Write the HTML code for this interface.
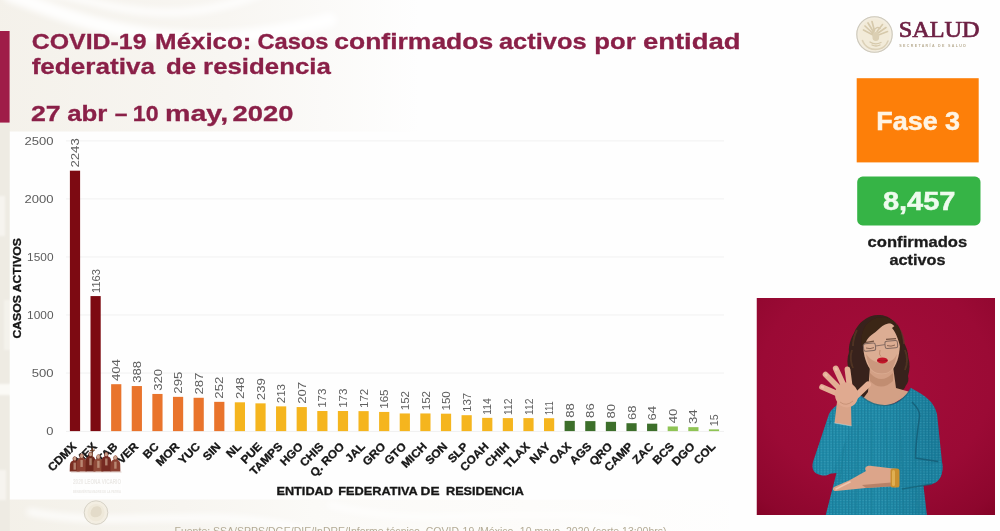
<!DOCTYPE html>
<html lang="es"><head><meta charset="utf-8"><title>COVID-19 México</title>
<style>
html,body{margin:0;padding:0;background:#fefefe;}
body{width:1000px;height:531px;overflow:hidden;position:relative;font-family:"Liberation Sans",sans-serif;}
svg{position:absolute;left:-10px;top:-10px;display:block;filter:blur(0.5px)}
text{font-family:"Liberation Sans",sans-serif}
.ser{font-family:"Liberation Serif",serif}
</style></head><body>
<svg width="1020" height="551" viewBox="-10 -10 1020 551">
<defs>
<filter id="b05" x="-10%" y="-10%" width="120%" height="120%"><feGaussianBlur stdDeviation="0.45"/></filter>
<filter id="b1" x="-10%" y="-10%" width="120%" height="120%"><feGaussianBlur stdDeviation="0.7"/></filter>
<filter id="b2" x="-10%" y="-10%" width="120%" height="120%"><feGaussianBlur stdDeviation="1.3"/></filter>
<filter id="b3" x="-20%" y="-20%" width="140%" height="140%"><feGaussianBlur stdDeviation="3"/></filter>
<filter id="b6" x="-30%" y="-30%" width="160%" height="160%"><feGaussianBlur stdDeviation="7"/></filter>
<linearGradient id="bgL" x1="0" y1="0" x2="1" y2="0"><stop offset="0" stop-color="#f4f1ea"/><stop offset="0.55" stop-color="#f8f6f2"/><stop offset="1" stop-color="#fefefe"/></linearGradient>
<linearGradient id="bgB" x1="0" y1="0" x2="1" y2="0"><stop offset="0" stop-color="#f3f0e8"/><stop offset="0.25" stop-color="#f7f5f0"/><stop offset="0.42" stop-color="#fbfaf7"/><stop offset="0.7" stop-color="#fdfcfa"/><stop offset="1" stop-color="#fefefe"/></linearGradient>
<radialGradient id="photoBg" cx="0.5" cy="0.38" r="0.88"><stop offset="0" stop-color="#a50d3a"/><stop offset="0.55" stop-color="#9b0a35"/><stop offset="0.82" stop-color="#8d062d"/><stop offset="1" stop-color="#7b0020"/></radialGradient>
<linearGradient id="teal" x1="0" y1="0" x2="1" y2="0"><stop offset="0" stop-color="#1d86a4"/><stop offset="0.5" stop-color="#208ba9"/><stop offset="1" stop-color="#1a7b99"/></linearGradient>
<pattern id="knit" width="3.2" height="2.6" patternUnits="userSpaceOnUse"><rect width="3.2" height="2.6" fill="none"/><rect x="0" y="0" width="1.3" height="2.6" fill="#0f5f7c" opacity="0.28"/><rect x="1.3" y="0.9" width="1.9" height="0.9" fill="#6cc3d6" opacity="0.22"/></pattern>
<clipPath id="bodyClip"><path d="M861,396 C846,399 834,404 829,414 L813,462 C811,470 815,475 822,474.5 L836.5,473 L825.5,516 L927,516 L923,482 L936,480 C942,478 943,470 942,462 L937,414 C934,402 926,396 911,388 C906,398 896,405 886,405.5 C876,406 868,402 861,396 Z"/></clipPath>
<clipPath id="photoClip"><rect x="756.5" y="298" width="238.5" height="217"/></clipPath>
</defs>
<!-- background -->
<rect x="-10" y="-10" width="1020" height="551" fill="#fefefe"/>
<g id="bgpattern">
<rect x="-10" y="-10" width="430" height="551" fill="url(#bgL)"/>
<rect x="-10" y="499.5" width="770" height="42" fill="url(#bgB)"/>
<g filter="url(#b3)" fill="none" stroke="#ffffff" stroke-linecap="round">
<path d="M10,-5 C90,25 180,60 330,20" stroke-width="14" opacity="0.9"/>
<path d="M40,-10 C110,5 170,30 260,-6" stroke-width="8" opacity="0.8"/>
<path d="M-5,60 C10,160 6,300 12,430" stroke-width="5" opacity="0.6"/>
<path d="M30,512 C120,530 200,505 300,528" stroke-width="7" opacity="0.8"/>
<path d="M330,505 C420,530 520,505 640,520" stroke-width="6" opacity="0.7"/>
</g>
</g>
<rect x="-10" y="123" width="19.8" height="418" fill="#eeebe3"/>
<g filter="url(#b2)" fill="#fbfaf6"><rect x="-2" y="384" width="14" height="11"/><rect x="-2" y="196" width="7" height="40" opacity="0.6"/><rect x="4" y="300" width="7" height="50" opacity="0.5"/><rect x="-2" y="470" width="8" height="30" opacity="0.6"/></g>
<!-- chart white area -->
<rect x="9.8" y="131.5" width="720" height="368" fill="#fefefe"/>
<rect x="729" y="-10" width="281" height="551" fill="#fefefe"/>
<!-- left maroon bar -->
<rect x="-10" y="31" width="19.6" height="91.6" fill="#9f1c48"/>

<g fill="#8a2048" stroke="#8a2048" stroke-width="0.3" font-weight="bold" font-size="22.2px">
<g><text x="31.8" y="48.7" textLength="114.7" lengthAdjust="spacingAndGlyphs">COVID-19</text> <text x="155.1" y="48.7" textLength="96.3" lengthAdjust="spacingAndGlyphs">México:</text> <text x="257.4" y="48.7" textLength="71.1" lengthAdjust="spacingAndGlyphs">Casos</text> <text x="334.3" y="48.7" textLength="158.9" lengthAdjust="spacingAndGlyphs">confirmados</text> <text x="498.9" y="48.7" textLength="87.7" lengthAdjust="spacingAndGlyphs">activos</text> <text x="594.3" y="48.7" textLength="41.4" lengthAdjust="spacingAndGlyphs">por</text> <text x="642.9" y="48.7" textLength="97.7" lengthAdjust="spacingAndGlyphs">entidad</text></g>
<g><text x="31.7" y="73.9" textLength="123.2" lengthAdjust="spacingAndGlyphs">federativa</text> <text x="165.9" y="73.9" textLength="30.2" lengthAdjust="spacingAndGlyphs">de</text> <text x="203.1" y="73.9" textLength="127.7" lengthAdjust="spacingAndGlyphs">residencia</text></g>
<g><text x="30.9" y="121.3" textLength="29.7" lengthAdjust="spacingAndGlyphs">27</text> <text x="67.2" y="121.3" textLength="40.2" lengthAdjust="spacingAndGlyphs">abr</text> <text x="114.7" y="121.3" textLength="12.7" lengthAdjust="spacingAndGlyphs">–</text> <text x="132.8" y="121.3" textLength="25.8" lengthAdjust="spacingAndGlyphs">10</text> <text x="165.1" y="121.3" textLength="63.0" lengthAdjust="spacingAndGlyphs">may,</text> <text x="232.6" y="121.3" textLength="61.0" lengthAdjust="spacingAndGlyphs">2020</text></g>
</g>
<g stroke="#f1f1f1" stroke-width="1">
<line x1="66" y1="373.1" x2="724" y2="373.1"/>
<line x1="66" y1="315.0" x2="724" y2="315.0"/>
<line x1="66" y1="257.0" x2="724" y2="257.0"/>
<line x1="66" y1="198.9" x2="724" y2="198.9"/>
<line x1="66" y1="140.9" x2="724" y2="140.9"/>
<line x1="66" y1="431.4" x2="724" y2="431.4" stroke="#f0f0f0"/>
</g>
<g fill="#5c5c5c" font-size="11.3px" text-anchor="end">
<text x="53.5" y="435.2" textLength="7.2" lengthAdjust="spacingAndGlyphs">0</text>
<text x="53.5" y="377.2" textLength="21.8" lengthAdjust="spacingAndGlyphs">500</text>
<text x="53.5" y="319.1" textLength="26.4" lengthAdjust="spacingAndGlyphs">1000</text>
<text x="53.5" y="261.1" textLength="26.4" lengthAdjust="spacingAndGlyphs">1500</text>
<text x="53.5" y="203.0" textLength="29.0" lengthAdjust="spacingAndGlyphs">2000</text>
<text x="53.5" y="145.0" textLength="29.0" lengthAdjust="spacingAndGlyphs">2500</text>
</g>
<rect x="69.90" y="170.69" width="10.2" height="260.41" fill="#7d0a12"/>
<rect x="90.51" y="296.08" width="10.2" height="135.02" fill="#7d0a12"/>
<rect x="111.13" y="384.20" width="10.2" height="46.90" fill="#e9742c"/>
<rect x="131.74" y="386.05" width="10.2" height="45.05" fill="#e9742c"/>
<rect x="152.35" y="393.95" width="10.2" height="37.15" fill="#e9742c"/>
<rect x="172.97" y="396.85" width="10.2" height="34.25" fill="#e9742c"/>
<rect x="193.58" y="397.78" width="10.2" height="33.32" fill="#e9742c"/>
<rect x="214.19" y="401.84" width="10.2" height="29.26" fill="#e9742c"/>
<rect x="234.80" y="402.31" width="10.2" height="28.79" fill="#f5b51e"/>
<rect x="255.42" y="403.35" width="10.2" height="27.75" fill="#f5b51e"/>
<rect x="276.03" y="406.37" width="10.2" height="24.73" fill="#f5b51e"/>
<rect x="296.64" y="407.07" width="10.2" height="24.03" fill="#f5b51e"/>
<rect x="317.26" y="411.01" width="10.2" height="20.09" fill="#f5b51e"/>
<rect x="337.87" y="411.01" width="10.2" height="20.09" fill="#f5b51e"/>
<rect x="358.48" y="411.13" width="10.2" height="19.97" fill="#f5b51e"/>
<rect x="379.09" y="411.94" width="10.2" height="19.16" fill="#f5b51e"/>
<rect x="399.71" y="413.45" width="10.2" height="17.65" fill="#f5b51e"/>
<rect x="420.32" y="413.45" width="10.2" height="17.65" fill="#f5b51e"/>
<rect x="440.93" y="413.69" width="10.2" height="17.41" fill="#f5b51e"/>
<rect x="461.55" y="415.19" width="10.2" height="15.91" fill="#f5b51e"/>
<rect x="482.16" y="417.86" width="10.2" height="13.24" fill="#f5b51e"/>
<rect x="502.77" y="418.10" width="10.2" height="13.00" fill="#f5b51e"/>
<rect x="523.39" y="418.10" width="10.2" height="13.00" fill="#f5b51e"/>
<rect x="544.00" y="418.21" width="10.2" height="12.89" fill="#f5b51e"/>
<rect x="564.61" y="420.88" width="10.2" height="10.22" fill="#3d6f2b"/>
<rect x="585.23" y="421.12" width="10.2" height="9.98" fill="#3d6f2b"/>
<rect x="605.84" y="421.81" width="10.2" height="9.29" fill="#3d6f2b"/>
<rect x="626.45" y="423.21" width="10.2" height="7.89" fill="#3d6f2b"/>
<rect x="647.06" y="423.67" width="10.2" height="7.43" fill="#3d6f2b"/>
<rect x="667.68" y="426.46" width="10.2" height="4.64" fill="#8fc455"/>
<rect x="688.29" y="427.15" width="10.2" height="3.95" fill="#8fc455"/>
<rect x="708.90" y="429.36" width="10.2" height="1.74" fill="#8fc455"/>
<g fill="#606060" font-size="11.4px">
<text transform="translate(79.10,167.49) rotate(-90)" textLength="29.2" lengthAdjust="spacingAndGlyphs">2243</text>
<text transform="translate(99.71,292.88) rotate(-90)" textLength="23.8" lengthAdjust="spacingAndGlyphs">1163</text>
<text transform="translate(120.33,381.00) rotate(-90)" textLength="21.9" lengthAdjust="spacingAndGlyphs">404</text>
<text transform="translate(140.94,382.85) rotate(-90)" textLength="21.9" lengthAdjust="spacingAndGlyphs">388</text>
<text transform="translate(161.55,390.75) rotate(-90)" textLength="21.9" lengthAdjust="spacingAndGlyphs">320</text>
<text transform="translate(182.16,393.65) rotate(-90)" textLength="21.9" lengthAdjust="spacingAndGlyphs">295</text>
<text transform="translate(202.78,394.58) rotate(-90)" textLength="21.9" lengthAdjust="spacingAndGlyphs">287</text>
<text transform="translate(223.39,398.64) rotate(-90)" textLength="21.9" lengthAdjust="spacingAndGlyphs">252</text>
<text transform="translate(244.00,399.11) rotate(-90)" textLength="21.9" lengthAdjust="spacingAndGlyphs">248</text>
<text transform="translate(264.62,400.15) rotate(-90)" textLength="21.9" lengthAdjust="spacingAndGlyphs">239</text>
<text transform="translate(285.23,403.17) rotate(-90)" textLength="19.2" lengthAdjust="spacingAndGlyphs">213</text>
<text transform="translate(305.84,403.87) rotate(-90)" textLength="21.9" lengthAdjust="spacingAndGlyphs">207</text>
<text transform="translate(326.46,407.81) rotate(-90)" textLength="19.2" lengthAdjust="spacingAndGlyphs">173</text>
<text transform="translate(347.07,407.81) rotate(-90)" textLength="19.2" lengthAdjust="spacingAndGlyphs">173</text>
<text transform="translate(367.68,407.93) rotate(-90)" textLength="19.2" lengthAdjust="spacingAndGlyphs">172</text>
<text transform="translate(388.30,408.74) rotate(-90)" textLength="19.2" lengthAdjust="spacingAndGlyphs">165</text>
<text transform="translate(408.91,410.25) rotate(-90)" textLength="19.2" lengthAdjust="spacingAndGlyphs">152</text>
<text transform="translate(429.52,410.25) rotate(-90)" textLength="19.2" lengthAdjust="spacingAndGlyphs">152</text>
<text transform="translate(450.13,410.49) rotate(-90)" textLength="19.2" lengthAdjust="spacingAndGlyphs">150</text>
<text transform="translate(470.75,411.99) rotate(-90)" textLength="19.2" lengthAdjust="spacingAndGlyphs">137</text>
<text transform="translate(491.36,414.66) rotate(-90)" textLength="16.5" lengthAdjust="spacingAndGlyphs">114</text>
<text transform="translate(511.97,414.90) rotate(-90)" textLength="16.5" lengthAdjust="spacingAndGlyphs">112</text>
<text transform="translate(532.59,414.90) rotate(-90)" textLength="16.5" lengthAdjust="spacingAndGlyphs">112</text>
<text transform="translate(553.20,415.01) rotate(-90)" textLength="13.8" lengthAdjust="spacingAndGlyphs">111</text>
<text transform="translate(573.81,417.68) rotate(-90)" textLength="14.6" lengthAdjust="spacingAndGlyphs">88</text>
<text transform="translate(594.43,417.92) rotate(-90)" textLength="14.6" lengthAdjust="spacingAndGlyphs">86</text>
<text transform="translate(615.04,418.61) rotate(-90)" textLength="14.6" lengthAdjust="spacingAndGlyphs">80</text>
<text transform="translate(635.65,420.01) rotate(-90)" textLength="14.6" lengthAdjust="spacingAndGlyphs">68</text>
<text transform="translate(656.26,420.47) rotate(-90)" textLength="14.6" lengthAdjust="spacingAndGlyphs">64</text>
<text transform="translate(676.88,423.26) rotate(-90)" textLength="14.6" lengthAdjust="spacingAndGlyphs">40</text>
<text transform="translate(697.49,423.95) rotate(-90)" textLength="14.6" lengthAdjust="spacingAndGlyphs">34</text>
<text transform="translate(718.10,426.16) rotate(-90)" textLength="11.9" lengthAdjust="spacingAndGlyphs">15</text>
</g>
<g fill="#161616" stroke="#161616" stroke-width="0.3" font-size="11.4px" font-weight="bold" text-anchor="end">
<text transform="translate(77.10,447.20) rotate(-45) scale(1.04,1)">CDMX</text>
<text transform="translate(97.71,447.20) rotate(-45) scale(1.04,1)">MEX</text>
<text transform="translate(118.33,447.20) rotate(-45) scale(1.04,1)">TAB</text>
<text transform="translate(138.94,447.20) rotate(-45) scale(1.04,1)">VER</text>
<text transform="translate(159.55,447.20) rotate(-45) scale(1.04,1)">BC</text>
<text transform="translate(180.16,447.20) rotate(-45) scale(1.04,1)">MOR</text>
<text transform="translate(200.78,447.20) rotate(-45) scale(1.04,1)">YUC</text>
<text transform="translate(221.39,447.20) rotate(-45) scale(1.04,1)">SIN</text>
<text transform="translate(242.00,447.20) rotate(-45) scale(1.04,1)">NL</text>
<text transform="translate(262.62,447.20) rotate(-45) scale(1.04,1)">PUE</text>
<text transform="translate(283.23,447.20) rotate(-45) scale(1.04,1)">TAMPS</text>
<text transform="translate(303.84,447.20) rotate(-45) scale(1.04,1)">HGO</text>
<text transform="translate(324.46,447.20) rotate(-45) scale(1.04,1)">CHIS</text>
<text transform="translate(345.07,447.20) rotate(-45) scale(1.04,1)">Q. ROO</text>
<text transform="translate(365.68,447.20) rotate(-45) scale(1.04,1)">JAL</text>
<text transform="translate(386.30,447.20) rotate(-45) scale(1.04,1)">GRO</text>
<text transform="translate(406.91,447.20) rotate(-45) scale(1.04,1)">GTO</text>
<text transform="translate(427.52,447.20) rotate(-45) scale(1.04,1)">MICH</text>
<text transform="translate(448.13,447.20) rotate(-45) scale(1.04,1)">SON</text>
<text transform="translate(468.75,447.20) rotate(-45) scale(1.04,1)">SLP</text>
<text transform="translate(489.36,447.20) rotate(-45) scale(1.04,1)">COAH</text>
<text transform="translate(509.97,447.20) rotate(-45) scale(1.04,1)">CHIH</text>
<text transform="translate(530.59,447.20) rotate(-45) scale(1.04,1)">TLAX</text>
<text transform="translate(551.20,447.20) rotate(-45) scale(1.04,1)">NAY</text>
<text transform="translate(571.81,447.20) rotate(-45) scale(1.04,1)">OAX</text>
<text transform="translate(592.43,447.20) rotate(-45) scale(1.04,1)">AGS</text>
<text transform="translate(613.04,447.20) rotate(-45) scale(1.04,1)">QRO</text>
<text transform="translate(633.65,447.20) rotate(-45) scale(1.04,1)">CAMP</text>
<text transform="translate(654.26,447.20) rotate(-45) scale(1.04,1)">ZAC</text>
<text transform="translate(674.88,447.20) rotate(-45) scale(1.04,1)">BCS</text>
<text transform="translate(695.49,447.20) rotate(-45) scale(1.04,1)">DGO</text>
<text transform="translate(716.10,447.20) rotate(-45) scale(1.04,1)">COL</text>
</g>
<text transform="translate(21.3,288.3) rotate(-90)" text-anchor="middle" font-size="11.5px" font-weight="bold" fill="#161616" stroke="#161616" stroke-width="0.3" textLength="100.4" lengthAdjust="spacingAndGlyphs">CASOS ACTIVOS</text>
<g font-size="11.5px" font-weight="bold" fill="#161616" stroke="#161616" stroke-width="0.3">
<text x="276.4" y="494.9" textLength="56.6" lengthAdjust="spacingAndGlyphs">ENTIDAD</text>
<text x="338.2" y="494.9" textLength="79.6" lengthAdjust="spacingAndGlyphs">FEDERATIVA</text>
<text x="420.6" y="494.9" textLength="19" lengthAdjust="spacingAndGlyphs">DE</text>
<text x="446" y="494.9" textLength="78" lengthAdjust="spacingAndGlyphs">RESIDENCIA</text>
</g>
<text x="174.5" y="534.6" font-size="10.4px" fill="#b3ab95" filter="url(#b05)" textLength="492" lengthAdjust="spacingAndGlyphs">Fuente: SSA/SPPS/DGE/DIE/InDRE/Informe técnico. COVID-19 /México- 10 mayo, 2020 (corte 13:00hrs)</text>

<g id="overlay">
<rect x="74" y="476" width="46" height="18" fill="#fefefe" opacity="0.85" filter="url(#b2)"/>
<g filter="url(#b05)" transform="translate(0,471.6) scale(1,1.08) translate(0,-471.6)">
<path d="M69.7,471.6 L69.9,465.3 Q70.3,461.9 72.9,461.5 L72.6,458.9 Q74.7,455.7 76.8,458.9 L76.5,461.5 Q79.1,461.9 79.5,465.3 L79.7,471.6 Z" fill="#7a2e24"/>
<path d="M76.6,471.6 L76.8,462.8 Q77.2,459.4 79.8,459.0 L79.5,456.4 Q81.6,453.2 83.7,456.4 L83.4,459.0 Q86.0,459.4 86.4,462.8 L86.6,471.6 Z" fill="#8c4030"/>
<path d="M85.5,471.6 L85.7,461.2 Q86.1,457.8 88.7,457.4 L88.4,454.8 Q90.5,451.6 92.6,454.8 L92.3,457.4 Q94.9,457.8 95.3,461.2 L95.5,471.6 Z" fill="#6e261f"/>
<path d="M93.4,471.6 L93.6,463.6 Q94.0,460.2 96.6,459.8 L96.3,457.2 Q98.4,454.0 100.5,457.2 L100.2,459.8 Q102.8,460.2 103.2,463.6 L103.4,471.6 Z" fill="#8f4a37"/>
<path d="M101.3,471.6 L101.5,461.4 Q101.9,458.0 104.5,457.6 L104.2,455.0 Q106.3,451.8 108.4,455.0 L108.1,457.6 Q110.7,458.0 111.1,461.4 L111.3,471.6 Z" fill="#762b22"/>
<path d="M110.4,471.6 L110.6,464.4 Q111.0,461.0 113.6,460.6 L113.3,458.0 Q115.4,454.8 117.5,458.0 L117.2,460.6 Q119.8,461.0 120.2,464.4 L120.4,471.6 Z" fill="#8a3f30"/>
<path d="M91.8,466 L92.4,449.5 M89.8,452.3 L95,451.6" stroke="#6e3b22" stroke-width="1" fill="none"/>
<g fill="#d9b8a0" opacity="0.85">
<ellipse cx="74.7" cy="459.6" rx="1.5" ry="1.8"/><rect x="73.5" y="463.3" width="2.4" height="6.5" opacity="0.7"/>
<ellipse cx="81.6" cy="457.1" rx="1.5" ry="1.8"/><rect x="80.4" y="460.8" width="2.4" height="6.5" opacity="0.7"/>
<ellipse cx="90.5" cy="455.5" rx="1.5" ry="1.8"/><rect x="89.3" y="459.2" width="2.4" height="6.5" opacity="0.7"/>
<ellipse cx="98.4" cy="457.9" rx="1.5" ry="1.8"/><rect x="97.2" y="461.6" width="2.4" height="6.5" opacity="0.7"/>
<ellipse cx="106.3" cy="455.7" rx="1.5" ry="1.8"/><rect x="105.1" y="459.4" width="2.4" height="6.5" opacity="0.7"/>
<ellipse cx="115.4" cy="458.7" rx="1.5" ry="1.8"/><rect x="114.2" y="462.4" width="2.4" height="6.5" opacity="0.7"/>
</g>
<path d="M71,472 L121.5,472" stroke="#b58a7c" stroke-width="0.8" opacity="0.5"/>
</g>
<g fill="#ebe9e6" font-weight="bold" text-anchor="middle">
<text x="97" y="484" font-size="6.6px" textLength="48" lengthAdjust="spacingAndGlyphs">2020 LEONA VICARIO</text>
<text x="97" y="492.5" font-size="4px" textLength="48" lengthAdjust="spacingAndGlyphs">BENEMÉRITA MADRE DE LA PATRIA</text>
</g>
<g>
<circle cx="96" cy="512.6" r="12.2" fill="#f3eee2"/>
<circle cx="96" cy="512.6" r="11.8" fill="none" stroke="#d3cfc4" stroke-width="0.9"/>
<circle cx="96" cy="512.6" r="8.6" fill="#efe9da"/>
<path d="M90.5,513 q1,-6 5,-6.5 q5,-1 6,3.5 q1,4 -2,6 q-3,2 -6,1 q-3,-1 -3,-4z" fill="#e3dbc9" filter="url(#b05)"/>
</g>
</g>

<!-- logo -->
<g id="logo">
<circle cx="874.5" cy="34.5" r="18.3" fill="#f3eddf"/>
<circle cx="874.5" cy="34.5" r="17.7" fill="none" stroke="#ccc8bc" stroke-width="1.1"/>
<circle cx="874.5" cy="34.5" r="15.2" fill="#f2ebd9"/>
<g filter="url(#b05)" fill="none" stroke="#d6c9ab" stroke-linecap="round">
<path d="M873,35 L863.5,30 M873,33.5 L865,26 M873.5,32 L868,23 M874.5,31 L872,21.5" stroke-width="1.7"/>
<path d="M878,33 L886,27.5 M878.5,35 L887.5,31.5 M877,31.5 L882.5,24.5" stroke-width="1.6"/>
<path d="M874,30 q3,-4 6,-1.5" stroke-width="1.5"/>
<ellipse cx="875.8" cy="36.5" rx="3.4" ry="4.6" fill="#dbcfb3" stroke="none"/>
<path d="M870,42 q5,3.5 11,0.5 M872,45 q4,2 8,0" stroke-width="1.3"/>
<path d="M862.5,40.5 C865,47.5 872,50.5 879,49 C883.5,48 886.5,45 888,41" stroke-width="1.6" stroke="#dcd1b8"/>
</g>
<text class="ser" x="898.8" y="37.4" font-size="22.8px" fill="#6e2144" stroke="#6e2144" stroke-width="0.7" textLength="80.8" lengthAdjust="spacingAndGlyphs">SALUD</text>
<text x="899.3" y="47.4" font-size="3.6px" fill="#b9ad93" textLength="66.5" lengthAdjust="spacing" font-weight="bold">SECRETARÍA DE SALUD</text>
</g>
<rect x="856.7" y="78.2" width="122" height="84.2" fill="#fd7f09"/>
<text x="876.3" y="130" font-size="25.6px" font-weight="bold" fill="#fff4e4" stroke="#fff4e4" stroke-width="0.5" textLength="83.8" lengthAdjust="spacingAndGlyphs">Fase 3</text>
<rect x="857.2" y="176.6" width="123.3" height="48.8" rx="5.5" fill="#36b446"/>
<text x="882.9" y="210.3" font-size="25px" font-weight="bold" fill="#eefbee" stroke="#eefbee" stroke-width="0.5" textLength="72.6" lengthAdjust="spacingAndGlyphs">8,457</text>
<g font-size="14.4px" font-weight="bold" fill="#1c1c1c" stroke="#1c1c1c" stroke-width="0.3">
<text x="867.6" y="247.1" textLength="99.6" lengthAdjust="spacingAndGlyphs">confirmados</text>
<text x="889.5" y="264.5" textLength="56" lengthAdjust="spacingAndGlyphs">activos</text>
</g>

<!-- photo -->
<g id="photo" clip-path="url(#photoClip)">
<rect x="756.5" y="298" width="238.5" height="217" fill="url(#photoBg)"/>
<g filter="url(#b1)">
<!-- hair back -->
<path d="M880.2,315 C869,314 858,322 854,333 C850,340 848.5,346 849,352 C847,358 847,364 848.5,369 C848,376 850,382 853,385 C854,390 857,394 861,396 L868,399 L872,396 L893,396 L898,391.5 C902,391 905,389 905.5,386 C908.5,383 909,379 908,376 C910,370 910,363 908.4,358 C908,351 906,346 903.7,342.5 C903,335 901,330 897,325.5 C893,319 887,315.5 880.2,315 Z" fill="#38231a"/>
<path d="M852,350 q-3,9 1,18 M905,350 q4,10 0,20 M857,330 q-4,8 -4,16 M900,330 q4,8 4,14" stroke="#5b3b29" stroke-width="1.8" fill="none" opacity="0.7"/>
<!-- neck + chest -->
<path d="M870,366 L868,392 L862,400 Q884,416 910,392 L896,388 L893,366 Z" fill="#d3a085"/>
<path d="M870,373 Q881,385 893,373 L893,381 Q881,392 870,381 Z" fill="#b98468" opacity="0.7"/>
<!-- body -->
<path d="M861,396 C846,399 834,404 829,414 L813,462 C811,470 815,475 822,474.5 L836.5,473 L825.5,516 L927,516 L923,482 L936,480 C942,478 943,470 942,462 L937,414 C934,402 926,396 911,388 C906,398 896,405 886,405.5 C876,406 868,402 861,396 Z" fill="url(#teal)"/>
<path d="M861,396 C846,399 834,404 829,414 L813,462 C811,470 815,475 822,474.5 L836.5,473 L825.5,516 L927,516 L923,482 L936,480 C942,478 943,470 942,462 L937,414 C934,402 926,396 911,388 C906,398 896,405 886,405.5 C876,406 868,402 861,396 Z" fill="url(#knit)"/>
<path d="M861,396 C868,402 876,406 886,405.5 C896,405 906,398 911,388" fill="none" stroke="#16697f" stroke-width="1.2" opacity="0.8"/>
<!-- shading on body -->
<path d="M830,420 L822,470 L830,470 L836,430 Z" fill="#166f86" opacity="0.55"/>
<path d="M912,402 C918,408 920,412 919.6,416 C917.5,430 915.8,445 915.5,458 L938,461.5" fill="none" stroke="#125a72" stroke-width="1.5" opacity="0.75"/>

<path d="M846,430 L840,480 M858,425 L856,515 M872,420 L872,515 M886,420 L888,515 M900,420 L904,515 M913,425 L918,515" stroke="#187a92" stroke-width="1.2" opacity="0.45" fill="none"/>
<!-- right forearm (viewer right) sleeve -->
<path d="M942,462 C944,474 940,482 932,484 L902,489 L898,470 L926,466 Z" fill="#1c82a0"/>
<path d="M942,462 C944,474 940,482 932,484 L902,489 L898,470 L926,466 Z" fill="url(#knit)"/>
<path d="M902,489 L932,484" stroke="#145f74" stroke-width="1.5" opacity="0.7"/>
<!-- bracelet + lower hand -->
<path d="M897,469 L872,466 C866,465 864,468 866,471 L850,480 L834,487 C832,489 833,491 836,491 L866,488 L897,486 Z" fill="#dca58a"/>
<path d="M850,482 L836,489" stroke="#f0c6ad" stroke-width="1.6" stroke-linecap="round"/>
<path d="M866,488 L897,486 L897,482 L862,485 Z" fill="#a87458" opacity="0.7"/>
<rect x="890.5" y="468.5" width="9" height="19" rx="2.5" fill="#c98f2e"/>
<rect x="892" y="470" width="3" height="16" rx="1.5" fill="#e6b65a" opacity="0.8"/>
<!-- left raised forearm sleeve -->
<path d="M815,470 C812,460 820,440 834,418 L852,424 C846,440 838,460 832,472 C826,478 818,476 815,470 Z" fill="#218caa"/>
<path d="M815,470 C812,460 820,440 834,418 L852,424 C846,440 838,460 832,472 C826,478 818,476 815,470 Z" fill="url(#knit)"/>
<!-- wrist -->
<path d="M837,402 L834.5,423 L851.5,426 L851,404 Z" fill="#d9a388"/>
<path d="M834.5,423 L851.5,426" stroke="#bfe0e6" stroke-width="1.2" opacity="0.5"/>
<!-- upper hand -->
<g stroke="#e3ae94" stroke-linecap="round" fill="none">
<path d="M838,394 L822,387" stroke-width="5.6"/>
<path d="M840,389 L825.5,374.5" stroke-width="5.6"/>
<path d="M843.5,385 L835.8,368.5" stroke-width="5.8"/>
<path d="M849.5,385 L847.5,369.5" stroke-width="5.8"/>
<path d="M856,396 L868,384.5" stroke-width="6"/>
</g>
<ellipse cx="846.5" cy="395" rx="11.5" ry="12.5" fill="#e0aa90" transform="rotate(-15 846.5 395)"/>
<g stroke="#f3bfb0" stroke-linecap="round" stroke-width="2.4" opacity="0.8"><path d="M822,387 l1,0.4"/><path d="M825.6,374.6 l0.8,0.8"/><path d="M835.8,368.6 l0.5,1"/></g>
<path d="M840,402 q6,5 13,-1" stroke="#b98468" stroke-width="1" fill="none" opacity="0.6"/>
<!-- face -->
<path d="M862.5,340 C862,327 871,321 881,321 C892,321 900,328 900,341 C900,353 898,362 893,369 C888,376 875,376 870,369 C865,362 863,352 862.5,340 Z" fill="#dcad93"/>
<path d="M871,369 C876,375 888,375 892,369 C894,366 896,360 897,354 C892,366 874,366 866,354 C867,360 869,366 871,369Z" fill="#c08a70" opacity="0.6"/>
<!-- hair front -->
<path d="M862,346 C860,334 864,322 876,318 C884,316 892,318 897,324 C890,322 884,324 880,328 C874,334 868,336 866,342 Z" fill="#3b2519"/>
<path d="M897,324 C902,330 903,340 901,350 C899,342 897,334 892,328 Z" fill="#3b2519"/>
<!-- glasses, brows, eyes -->
<g stroke="#5a4a48" fill="none" opacity="0.7">
<rect x="863.5" y="343.5" width="12" height="7.4" rx="2" stroke-width="1" transform="rotate(-5 869 347)"/>
<rect x="885" y="340.8" width="12.5" height="7.4" rx="2" stroke-width="1" transform="rotate(-5 891 344)"/>
<path d="M875.5,346 L885,344.6" stroke-width="0.9"/>
<path d="M865,342.6 L874,341.2 M886,339.4 L896,338.6" stroke-width="1.3" stroke="#4a2f22"/>
<path d="M866,348 q4,1.5 8,-0.4 M887,345.6 q4,1.4 8,-0.6" stroke-width="0.9" stroke="#5a3a2e"/>
</g>
<path d="M880,350 q-1.5,5 1,6.5" stroke="#b98468" stroke-width="1" fill="none" opacity="0.8"/>
<!-- lips -->
<ellipse cx="882.4" cy="360.4" rx="5.4" ry="3" fill="#c4172b"/>
<path d="M877.5,360.4 q5,1.2 10,0" stroke="#8e0f1f" stroke-width="0.7" fill="none"/>
</g>
</g>

</svg></body></html>
